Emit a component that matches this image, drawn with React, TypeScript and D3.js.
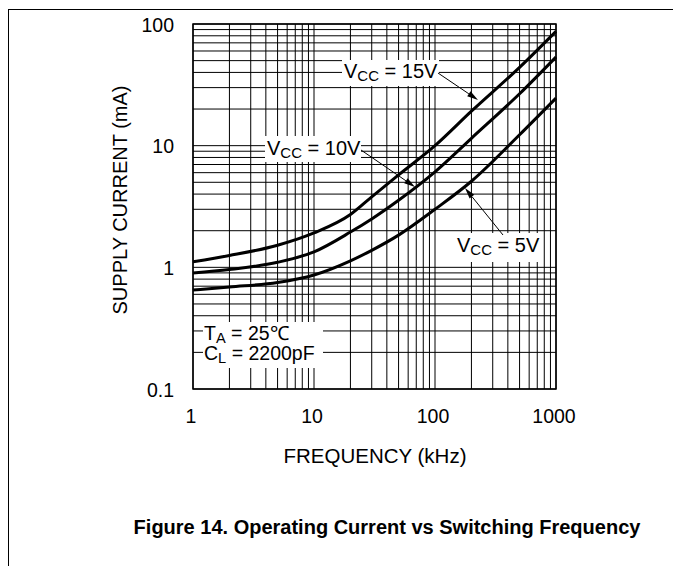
import React from "react";
import * as d3 from "d3";

const freqs = [1, 2, 5, 10, 20, 30, 50, 100, 200, 500, 1000];
const vcc15 = [1.11, 1.25, 1.52, 1.92, 2.72, 3.8, 5.75, 10.0, 19.2, 44, 87];
const vcc10 = [0.9, 0.96, 1.1, 1.34, 1.95, 2.5, 3.56, 6.1, 11.5, 26.7, 53.5];
const vcc5 = [0.65, 0.69, 0.75, 0.865, 1.13, 1.38, 1.84, 3.0, 5.1, 12.3, 24.6];
const xTicks = [1, 10, 100, 1000];
const yTicks = [0.1, 1, 10, 100];
const yTickLabels = ["0.1", "1", "10", "100"];

const W = 673;
const H = 566;
const FONT = "'Liberation Sans', Arial, Helvetica, sans-serif";

const x = d3.scaleLog().domain([1, 1000]).range([193, 556]);
const y = d3.scaleLog().domain([0.1, 100]).range([389, 24]);

function minorValues(lo: number, hi: number) {
  const out: number[] = [];
  for (let d = lo; d < hi * 0.999; d *= 10) {
    for (let k = 1; k <= 9; k++) out.push(d * k);
  }
  out.push(hi);
  return out;
}

const line = d3
  .line<[number, number]>()
  .x((d) => x(d[0]))
  .y((d) => y(d[1]))
  .curve(d3.curveMonotoneX);

function Arrow({ x1, y1, x2, y2 }: { x1: number; y1: number; x2: number; y2: number }) {
  const ang = Math.atan2(y2 - y1, x2 - x1);
  const len = 11;
  const wid = 3;
  const bx = x2 - len * Math.cos(ang);
  const by = y2 - len * Math.sin(ang);
  const px = -Math.sin(ang) * wid;
  const py = Math.cos(ang) * wid;
  return (
    <g>
      <line x1={x1} y1={y1} x2={bx} y2={by} stroke="#000" strokeWidth={1} />
      <polygon points={`${x2},${y2} ${bx + px},${by + py} ${bx - px},${by - py}`} fill="#000" />
    </g>
  );
}

function SubLabel({ xx, yy, main, sub, rest, size }: { xx: number; yy: number; main: string; sub: string; rest: string; size: number }) {
  return (
    <text x={xx} y={yy} fontFamily={FONT} fontSize={size} fill="#000">
      {main}
      <tspan fontSize={size * 0.75} dy={3}>{sub}</tspan>
      <tspan dy={-3}>{rest}</tspan>
    </text>
  );
}

export default function App() {
  const xs = minorValues(1, 1000);
  const ys = minorValues(0.1, 100);
  const series = [vcc15, vcc10, vcc5];
  return (
    <svg width={W} height={H} style={{ position: "absolute", left: 0, top: 0, background: "#fff" }}>
      <rect x={0} y={0} width={W} height={H} fill="#fff" />
      {/* frame */}
      <line x1={8} y1={9.5} x2={W} y2={9.5} stroke="#000" strokeWidth={1} />
      <line x1={8.5} y1={9} x2={8.5} y2={H} stroke="#000" strokeWidth={1} />

      {/* grid */}
      {xs.map((v, i) => (
        <line key={"gx" + i} x1={x(v)} x2={x(v)} y1={24} y2={389} stroke="#000" strokeWidth={1} />
      ))}
      {ys.map((v, i) => (
        <line key={"gy" + i} x1={193} x2={556} y1={y(v)} y2={y(v)} stroke="#000" strokeWidth={1} />
      ))}
      <rect x={193} y={24} width={363} height={365} fill="none" stroke="#000" strokeWidth={1.5} />

      {/* curves */}
      {series.map((s, i) => (
        <path
          key={"s" + i}
          d={line(freqs.map((f, j) => [f, s[j]] as [number, number])) || ""}
          fill="none"
          stroke="#000"
          strokeWidth={3}
        />
      ))}

      {/* annotations */}
      <rect x={342} y={60} width={97} height={26} fill="#fff" />
      <SubLabel xx={344} yy={78} main="V" sub="CC" rest=" = 15V" size={20} />
      <Arrow x1={438} y1={73} x2={478} y2={100} />

      <rect x={265} y={136} width={96} height={26} fill="#fff" />
      <SubLabel xx={267} yy={155} main="V" sub="CC" rest=" = 10V" size={20} />
      <Arrow x1={361} y1={150} x2={415} y2={187} />

      <rect x={455} y={233} width={86} height={29} fill="#fff" />
      <SubLabel xx={457} yy={252} main="V" sub="CC" rest=" = 5V" size={20} />
      <Arrow x1={503} y1={235} x2={465} y2={188} />

      <rect x={203} y={322} width={120} height={46} fill="#fff" />
      <SubLabel xx={204} yy={340} main="T" sub="A" rest=" = 25℃" size={19.5} />
      <SubLabel xx={204} yy={360} main="C" sub="L" rest=" = 2200pF" size={19.5} />

      {/* tick labels */}
      {yTicks.map((v, i) => (
        <text key={"yt" + i} x={174} y={y(v) + 7.5} textAnchor="end" fontFamily={FONT} fontSize={19.5} fill="#000">
          {yTickLabels[i]}
        </text>
      ))}
      {xTicks.map((v, i) => (
        <text key={"xt" + i} x={x(v) - 2} y={423} textAnchor="middle" fontFamily={FONT} fontSize={19.5} fill="#000">
          {String(v)}
        </text>
      ))}

      <text x={375} y={463} textAnchor="middle" fontFamily={FONT} fontSize={20.5} fill="#000">
        FREQUENCY (kHz)
      </text>
      <text
        transform="translate(127,200) rotate(-90)"
        textAnchor="middle"
        fontFamily={FONT}
        fontSize={20}
        fill="#000"
      >
        SUPPLY CURRENT (mA)
      </text>

      <text x={387} y={534} textAnchor="middle" fontFamily={FONT} fontSize={20} fontWeight="bold" fill="#000">
        Figure 14. Operating Current vs Switching Frequency
      </text>
    </svg>
  );
}
